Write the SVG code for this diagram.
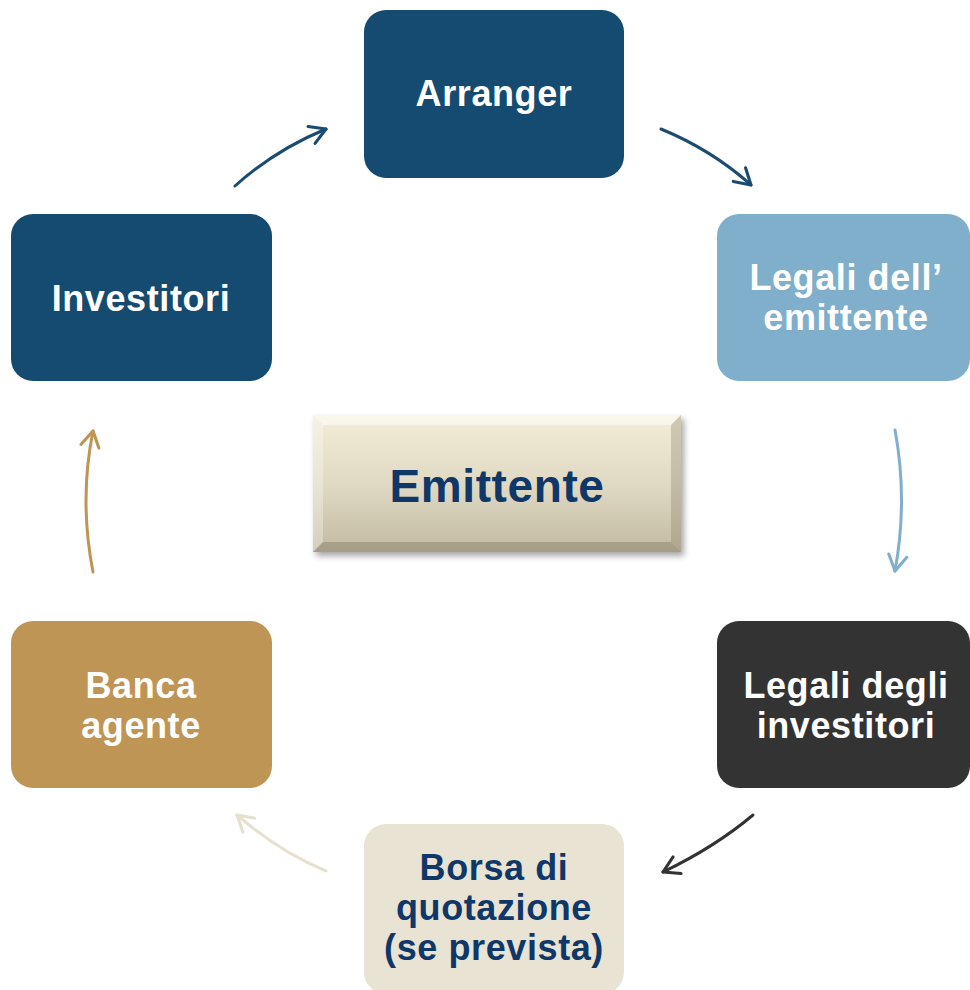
<svg xmlns="http://www.w3.org/2000/svg" width="970" height="990" viewBox="0 0 970 990">
<defs>
<style>
.lbl{font-family:"Liberation Sans",Arial,sans-serif;font-weight:bold;font-size:36px;letter-spacing:0.6px;text-anchor:middle;fill:#ffffff}
.dark{fill:#0F3767}
.conn{fill:none;stroke-width:3;stroke-linecap:round}
</style>
<linearGradient id="emG" x1="0" y1="0" x2="0" y2="1">
<stop offset="0" stop-color="#F3EDD8"/>
<stop offset="0.5" stop-color="#E0DAC4"/>
<stop offset="1" stop-color="#C2BAA2"/>
</linearGradient>
<filter id="sh" x="-10%" y="-10%" width="125%" height="130%">
<feDropShadow dx="3" dy="4" stdDeviation="3" flood-color="#000" flood-opacity="0.35"/>
</filter>
<marker id="mBlue" viewBox="0 0 12 12" refX="10.5" refY="6" markerWidth="22" markerHeight="22" markerUnits="userSpaceOnUse" orient="auto"><path d="M2,1 L10.5,6 L2,11" fill="none" stroke="#1A4C72" stroke-width="1.7" stroke-linecap="round" stroke-linejoin="round"/></marker>
<marker id="mLight" viewBox="0 0 12 12" refX="10.5" refY="6" markerWidth="22" markerHeight="22" markerUnits="userSpaceOnUse" orient="auto"><path d="M2,1 L10.5,6 L2,11" fill="none" stroke="#7FAFCB" stroke-width="1.7" stroke-linecap="round" stroke-linejoin="round"/></marker>
<marker id="mDark" viewBox="0 0 12 12" refX="10.5" refY="6" markerWidth="22" markerHeight="22" markerUnits="userSpaceOnUse" orient="auto"><path d="M2,1 L10.5,6 L2,11" fill="none" stroke="#333333" stroke-width="1.7" stroke-linecap="round" stroke-linejoin="round"/></marker>
<marker id="mBeige" viewBox="0 0 12 12" refX="10.5" refY="6" markerWidth="22" markerHeight="22" markerUnits="userSpaceOnUse" orient="auto"><path d="M2,1 L10.5,6 L2,11" fill="none" stroke="#E6E1CF" stroke-width="1.7" stroke-linecap="round" stroke-linejoin="round"/></marker>
<marker id="mGold" viewBox="0 0 12 12" refX="10.5" refY="6" markerWidth="22" markerHeight="22" markerUnits="userSpaceOnUse" orient="auto"><path d="M2,1 L10.5,6 L2,11" fill="none" stroke="#BE9555" stroke-width="1.7" stroke-linecap="round" stroke-linejoin="round"/></marker>
</defs>
<rect width="970" height="990" fill="#ffffff"/>

<g id="connectors">
<path class="conn" stroke="#1A4C72" marker-end="url(#mBlue)" d="M235,186 Q275,150 326,129"/>
<path class="conn" stroke="#1A4C72" marker-end="url(#mBlue)" d="M661,129 Q712,150 751,185"/>
<path class="conn" stroke="#7FAFCB" marker-end="url(#mLight)" d="M895,430 Q908,500 895,571"/>
<path class="conn" stroke="#333333" marker-end="url(#mDark)" d="M753,815 Q715,847 663,872"/>
<path class="conn" stroke="#E6E1CF" marker-end="url(#mBeige)" d="M326,871 Q280,852 237,815"/>
<path class="conn" stroke="#BE9555" marker-end="url(#mGold)" d="M93,572 Q79,500 93,431"/>
</g>

<g id="arranger">
<rect x="364" y="10" width="260" height="168" rx="22" fill="#154B70"/>
<text class="lbl" x="494" y="106">Arranger</text>
</g>

<g id="legali-emittente">
<rect x="717" y="214" width="253" height="167" rx="22" fill="#7FAFCB"/>
<text class="lbl" x="846" y="290">Legali dell’</text>
<text class="lbl" x="846" y="330">emittente</text>
</g>

<g id="legali-investitori">
<rect x="717" y="621" width="253" height="167" rx="22" fill="#333333"/>
<text class="lbl" x="846" y="698">Legali degli</text>
<text class="lbl" x="846" y="738">investitori</text>
</g>

<g id="borsa">
<rect x="364" y="824" width="260" height="170" rx="22" fill="#E8E3D2"/>
<text class="lbl dark" x="494" y="880">Borsa di</text>
<text class="lbl dark" x="494" y="920">quotazione</text>
<text class="lbl dark" x="494" y="960">(se prevista)</text>
</g>

<g id="banca-agente">
<rect x="11" y="621" width="261" height="167" rx="22" fill="#BE9555"/>
<text class="lbl" x="141" y="698">Banca</text>
<text class="lbl" x="141" y="738">agente</text>
</g>

<g id="investitori">
<rect x="11" y="214" width="261" height="167" rx="22" fill="#154B70"/>
<text class="lbl" x="141" y="311">Investitori</text>
</g>

<g id="emittente">
<g filter="url(#sh)">
<rect x="313" y="415" width="368" height="137" fill="url(#emG)"/>
</g>
<polygon points="313,415 681,415 671,425 323,425" fill="#FFFFFF" opacity="0.55"/>
<polygon points="313,415 323,425 323,542 313,552" fill="#FFFFFF" opacity="0.3"/>
<polygon points="681,415 681,552 671,542 671,425" fill="#8C846D" opacity="0.35"/>
<polygon points="313,552 323,542 671,542 681,552" fill="#7C745E" opacity="0.4"/>
<text class="lbl dark" x="497" y="502" style="font-size:46px">Emittente</text>
</g>
</svg>
